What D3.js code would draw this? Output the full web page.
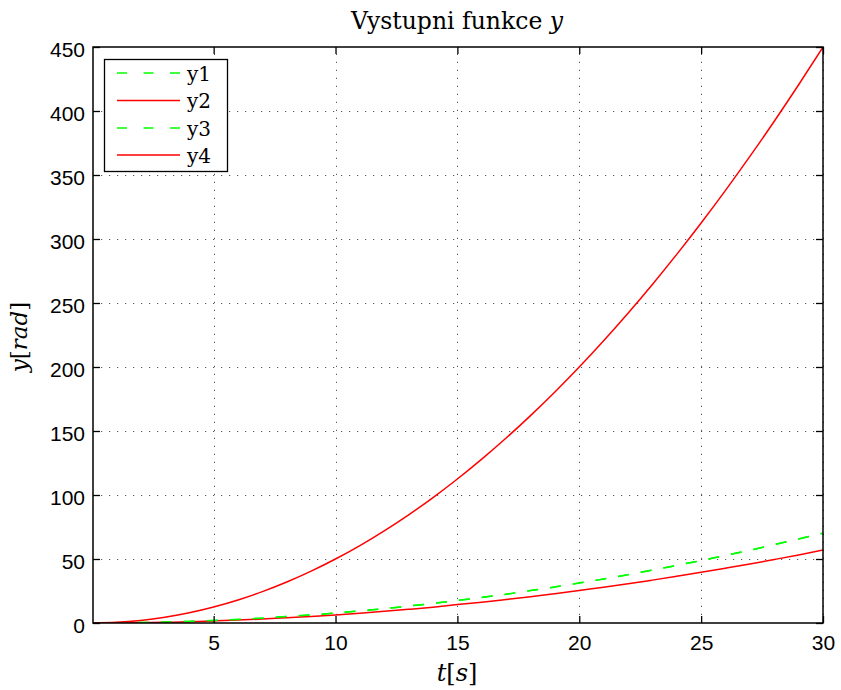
<!DOCTYPE html>
<html>
<head>
<meta charset="utf-8">
<script src="https://cdn.jsdelivr.net/npm/d3@7"></script>
<style>
  html, body { margin: 0; padding: 0; background: #fff; }
  svg { display: block; }
  .tick text { font-family: "Liberation Sans", Arial, sans-serif; font-size: 21px; fill: #000; }
  .serif { font-family: "DejaVu Serif", "Liberation Serif", serif; }
</style>
</head>
<body>
<svg id="chart" width="841" height="690"></svg>
<script>
// Time samples [s]
const t = [0, 1, 2, 3, 4, 5, 6, 7, 8, 9, 10, 11, 12, 13, 14, 15, 16, 17, 18, 19, 20,
           21, 22, 23, 24, 25, 26, 27, 28, 29, 30];

// Output signals [rad]
const y1 = [0, 0.08, 0.31, 0.70, 1.25, 1.95, 2.8, 3.8, 5.0, 6.3, 7.8, 9.4, 11.2, 13.2, 15.3, 17.6,
            20.0, 22.5, 25.3, 28.2, 31.2, 34.4, 37.8, 41.3, 45.0, 48.8, 52.8, 56.9, 61.2, 65.6, 70.2];
const y2 = [0, 0.06, 0.25, 0.57, 1.0, 1.6, 2.3, 3.1, 4.1, 5.1, 6.3, 7.7, 9.1, 10.7, 12.4, 14.4,
            16.2, 18.3, 20.5, 22.9, 25.4, 27.9, 30.6, 33.5, 36.5, 39.6, 42.8, 46.1, 49.6, 53.2, 57.0];
const y3 = [0, 0.08, 0.31, 0.70, 1.25, 1.95, 2.8, 3.8, 5.0, 6.3, 7.8, 9.4, 11.2, 13.2, 15.3, 17.6,
            20.0, 22.5, 25.3, 28.2, 31.2, 34.4, 37.8, 41.3, 45.0, 48.8, 52.8, 56.9, 61.2, 65.6, 70.2];
const y4 = [0, 0.5, 2, 4.5, 8, 12.5, 18, 24.5, 32, 40.5, 50, 60.5, 72, 84.5, 98, 112.5,
            128, 144.5, 162, 180.5, 200, 220.5, 242, 264.5, 288, 312.5, 338, 364.5, 392, 420.5, 450];

const seriesNames = ["y1", "y2", "y3", "y4"];
const seriesColors = ["#00ff00", "#ff0000", "#00ff00", "#ff0000"];
const seriesDash = ["11,12", null, "11,12", null];
const seriesData = [y1, y2, y3, y4];

const xTicks = [5, 10, 15, 20, 25, 30];
const yTicks = [0, 50, 100, 150, 200, 250, 300, 350, 400, 450];
const xDomain = [0.05, 30];
const yDomain = [0, 450];

const svg = d3.select("#chart");
const m = { left: 93, right: 823, top: 47, bottom: 623 };

const x = d3.scaleLinear().domain(xDomain).range([m.left, m.right]);
const y = d3.scaleLinear().domain(yDomain).range([m.bottom, m.top]);

// Dotted grid
const grid = svg.append("g").attr("stroke", "#555").attr("stroke-width", 1)
  .attr("stroke-dasharray", "1.2,6.8");
grid.selectAll("line.gx").data(xTicks).join("line")
  .attr("x1", d => Math.round(x(d)) + 0.5).attr("x2", d => Math.round(x(d)) + 0.5)
  .attr("y1", m.bottom).attr("y2", m.top);
grid.selectAll("line.gy").data(yTicks.filter(d => d > 0 && d < 450)).join("line")
  .attr("y1", d => Math.round(y(d)) + 0.5).attr("y2", d => Math.round(y(d)) + 0.5)
  .attr("x1", m.left).attr("x2", m.right);

// Curves
svg.append("clipPath").attr("id", "plotclip").append("rect")
  .attr("x", m.left).attr("y", m.top - 2).attr("width", m.right - m.left).attr("height", m.bottom - m.top + 2);

const line = d3.line().curve(d3.curveMonotoneX);
const curves = svg.append("g").attr("clip-path", "url(#plotclip)");
seriesData.forEach((vals, i) => {
  curves.append("path")
    .attr("d", line(t.map((tv, k) => [x(tv), y(vals[k])])))
    .attr("fill", "none")
    .attr("stroke", seriesColors[i])
    .attr("stroke-width", 1.5)
    .attr("stroke-dasharray", seriesDash[i]);
});

// Axes with inward ticks on all four sides
const tickLen = 7;
const axB = svg.append("g").attr("transform", `translate(0,${m.bottom})`)
  .call(d3.axisBottom(x).tickValues(xTicks).tickSizeInner(-tickLen).tickSizeOuter(0).tickPadding(12));
const axT = svg.append("g").attr("transform", `translate(0,${m.top})`)
  .call(d3.axisTop(x).tickValues(xTicks).tickSizeInner(-tickLen).tickSizeOuter(0).tickFormat(""));
const axL = svg.append("g").attr("transform", `translate(${m.left},0)`)
  .call(d3.axisLeft(y).tickValues(yTicks).tickSizeInner(-tickLen).tickSizeOuter(0).tickPadding(8));
const axR = svg.append("g").attr("transform", `translate(${m.right},0)`)
  .call(d3.axisRight(y).tickValues(yTicks).tickSizeInner(-tickLen).tickSizeOuter(0).tickFormat(""));
[axB, axT, axL, axR].forEach(a => {
  a.select(".domain").remove();
  a.selectAll(".tick line").attr("stroke", "#000").attr("stroke-width", 1.3);
});
axB.selectAll(".tick text").attr("dy", "0.72em");
axL.selectAll(".tick text").attr("dy", "0.45em");

// Box
svg.append("rect").attr("x", m.left).attr("y", m.top)
  .attr("width", m.right - m.left).attr("height", m.bottom - m.top)
  .attr("fill", "none").attr("stroke", "#000").attr("stroke-width", 1.5);

// Title
const title = svg.append("text").attr("class", "serif")
  .attr("x", 457).attr("y", 28.5)
  .attr("text-anchor", "middle").attr("font-size", 23.5);
title.append("tspan").text("Vystupni funkce ");
title.append("tspan").attr("font-style", "italic").text("y");

// Axis labels
const xl = svg.append("text").attr("class", "serif")
  .attr("x", 457).attr("y", 681)
  .attr("text-anchor", "middle").attr("font-size", 24);
xl.append("tspan").attr("font-style", "italic").text("t");
xl.append("tspan").text("[");
xl.append("tspan").attr("font-style", "italic").text("s");
xl.append("tspan").text("]");

const yl = svg.append("text").attr("class", "serif")
  .attr("transform", `translate(27,337) rotate(-90)`)
  .attr("text-anchor", "middle").attr("font-size", 23);
yl.append("tspan").attr("font-style", "italic").text("y");
yl.append("tspan").text("[");
yl.append("tspan").attr("font-style", "italic").text("rad");
yl.append("tspan").text("]");

// Legend
const lg = svg.append("g");
lg.append("rect").attr("x", 104.5).attr("y", 59.5).attr("width", 123).attr("height", 112)
  .attr("fill", "#fff").attr("stroke", "#000").attr("stroke-width", 1.3);
const rowY = [73, 100.5, 128, 155];
seriesNames.forEach((name, i) => {
  lg.append("line").attr("x1", 117).attr("x2", 180).attr("y1", rowY[i]).attr("y2", rowY[i])
    .attr("stroke", seriesColors[i]).attr("stroke-width", 1.5)
    .attr("stroke-dasharray", seriesDash[i] ? "10,16.5" : null);
  lg.append("text").attr("class", "serif").attr("x", 187).attr("y", rowY[i] + 7.5)
    .attr("font-size", 20).text(name);
});
</script>
</body>
</html>
